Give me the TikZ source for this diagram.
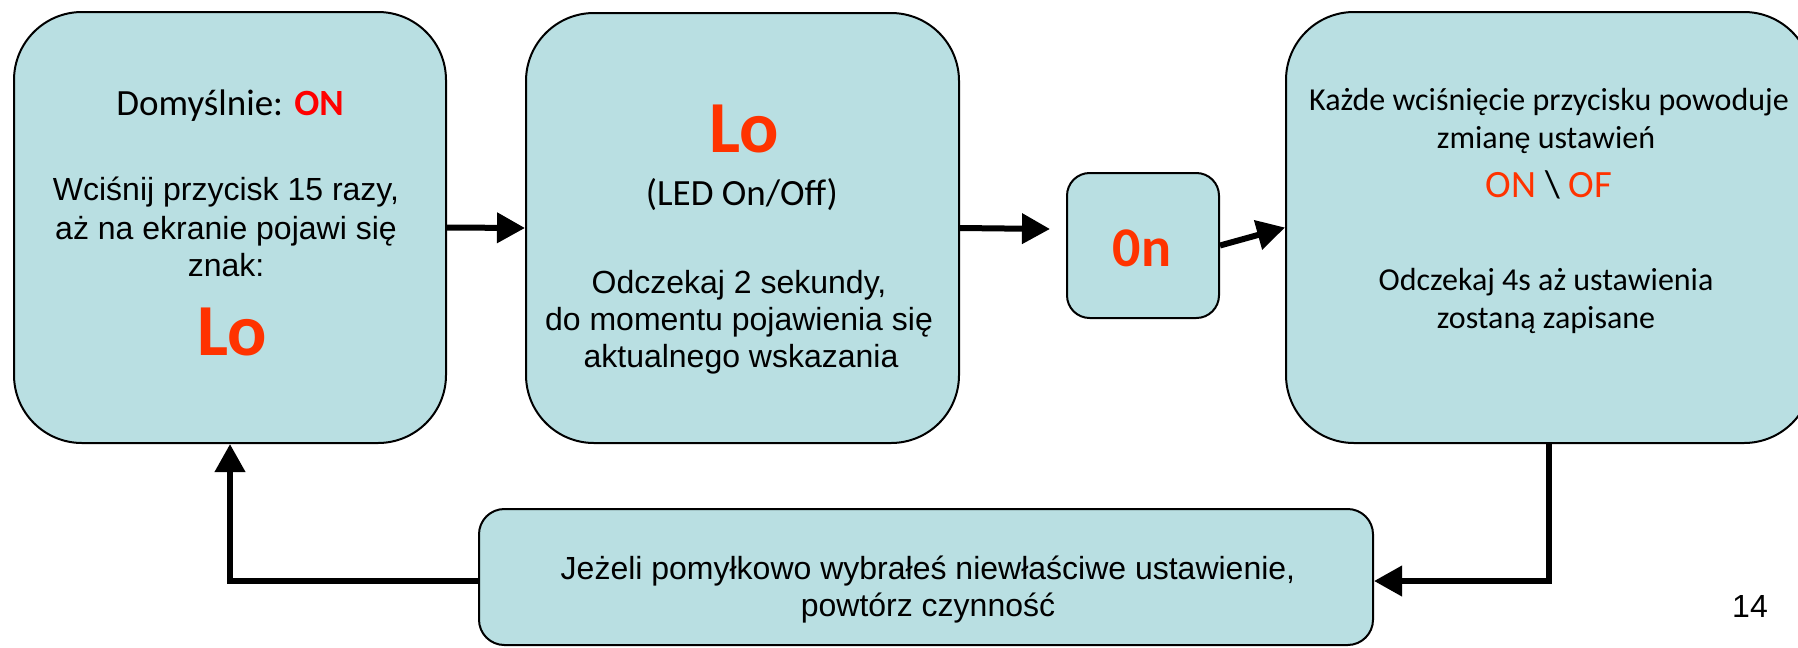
\documentclass[tikz,border=0pt]{standalone}
\usepackage{fontspec}
\setmainfont{Liberation Sans}
\newfontfamily\calibri{Carlito}
\usetikzlibrary{arrows.meta}
\definecolor{boxfill}{HTML}{B9DFE2}
\definecolor{hotred}{HTML}{FF0000}
\definecolor{orangered}{HTML}{FF3300}
\begin{document}
\begin{tikzpicture}[x=0.75pt,y=-0.75pt,
  box/.style={draw=black, line width=1.5pt, fill=boxfill, inner sep=0pt},
  bigbox/.style={box, rounded corners=51pt},
  flow/.style={line width=4.5pt, -{Triangle[length=21pt,width=22pt]}},
  txt/.style={anchor=base, inner sep=0pt},
  arialtxt/.style={txt, font=\fontsize{24}{28}\selectfont},
  calmid/.style={txt, font=\calibri\fontsize{27.75}{32}\selectfont},
  calsmall/.style={txt, font=\calibri\fontsize{24}{28}\selectfont},
  bigred/.style={txt, text=orangered, font=\calibri\bfseries\fontsize{55}{60}\selectfont},
]
\useasboundingbox (0,0) rectangle (1798,647);
\clip (0,0) rectangle (1798,647);

% boxes
\node[bigbox, minimum width=324pt, minimum height=323.25pt] (b1) at (230,227.5) {};
\node[bigbox, minimum width=324.75pt, minimum height=322.5pt] (b2) at (742.5,228) {};
\node[box, rounded corners=17pt, minimum width=114pt, minimum height=108.75pt] (b3) at (1143,245.5) {};
\node[bigbox, minimum width=394.5pt, minimum height=323.25pt] (b4) at (1549,227.5) {};
\node[box, rounded corners=19pt, minimum width=670.5pt, minimum height=102pt] (b5) at (926,577) {};

% connectors
\coordinate (a2) at (1050,229);
\draw[flow] (b1.east) -- (b2.west);
\draw[flow] (b2.east) -- (a2);
\draw[flow] (b3.east) -- (b4.west);
\draw[flow] (b4.south) |- ([yshift=-3pt]b5.east);
\draw[flow] ([yshift=-3pt]b5.west) -| (b1.south);

% box 1 texts
\node[calmid] (t1a) at (230,115) {Domyślnie: {\bfseries\color{hotred}ON}};
\node[arialtxt] (t1b) at (226,200) {Wciśnij przycisk 15 razy,};
\node[arialtxt] (t1c) at (226,239) {aż na ekranie pojawi się};
\node[arialtxt] (t1d) at (226,276) {znak:};
\node[bigred] (t1e) at (232,355) {Lo};

% box 2 texts
\node[bigred] (t2a) at (744,152) {Lo};
\node[calmid] (t2b) at (742,205) {(LED On/Off)};
\node[arialtxt] (t2c) at (739,293) {Odczekaj 2 sekundy,};
\node[arialtxt] (t2d) at (739,330) {do momentu pojawienia się};
\node[arialtxt] (t2e) at (741,367) {aktualnego wskazania};

% box 3 text
\node[txt, text=orangered, font=\calibri\bfseries\fontsize{42}{46}\selectfont] (t3) at (1142,266) {0n};

% box 4 texts
\node[calsmall] (t4a) at (1549,110) {Każde wciśnięcie przycisku powoduje};
\node[calsmall] (t4b) at (1546,148) {zmianę ustawień};
\node[txt, font=\calibri\fontsize{29}{33}\selectfont] (t4c) at (1549,197) {{\color{orangered}ON} \textbackslash{} {\color{orangered}OF}};
\node[calsmall] (t4d) at (1546,290) {Odczekaj 4s aż ustawienia};
\node[calsmall] (t4e) at (1546,328) {zostaną zapisane};

% bottom box texts
\node[arialtxt] (t5a) at (928,579) {Jeżeli pomyłkowo wybrałeś niewłaściwe ustawienie,};
\node[arialtxt] (t5b) at (928,616) {powtórz czynność};

% page number
\node[arialtxt] (pg) at (1750,617) {14};
\end{tikzpicture}
\end{document}
